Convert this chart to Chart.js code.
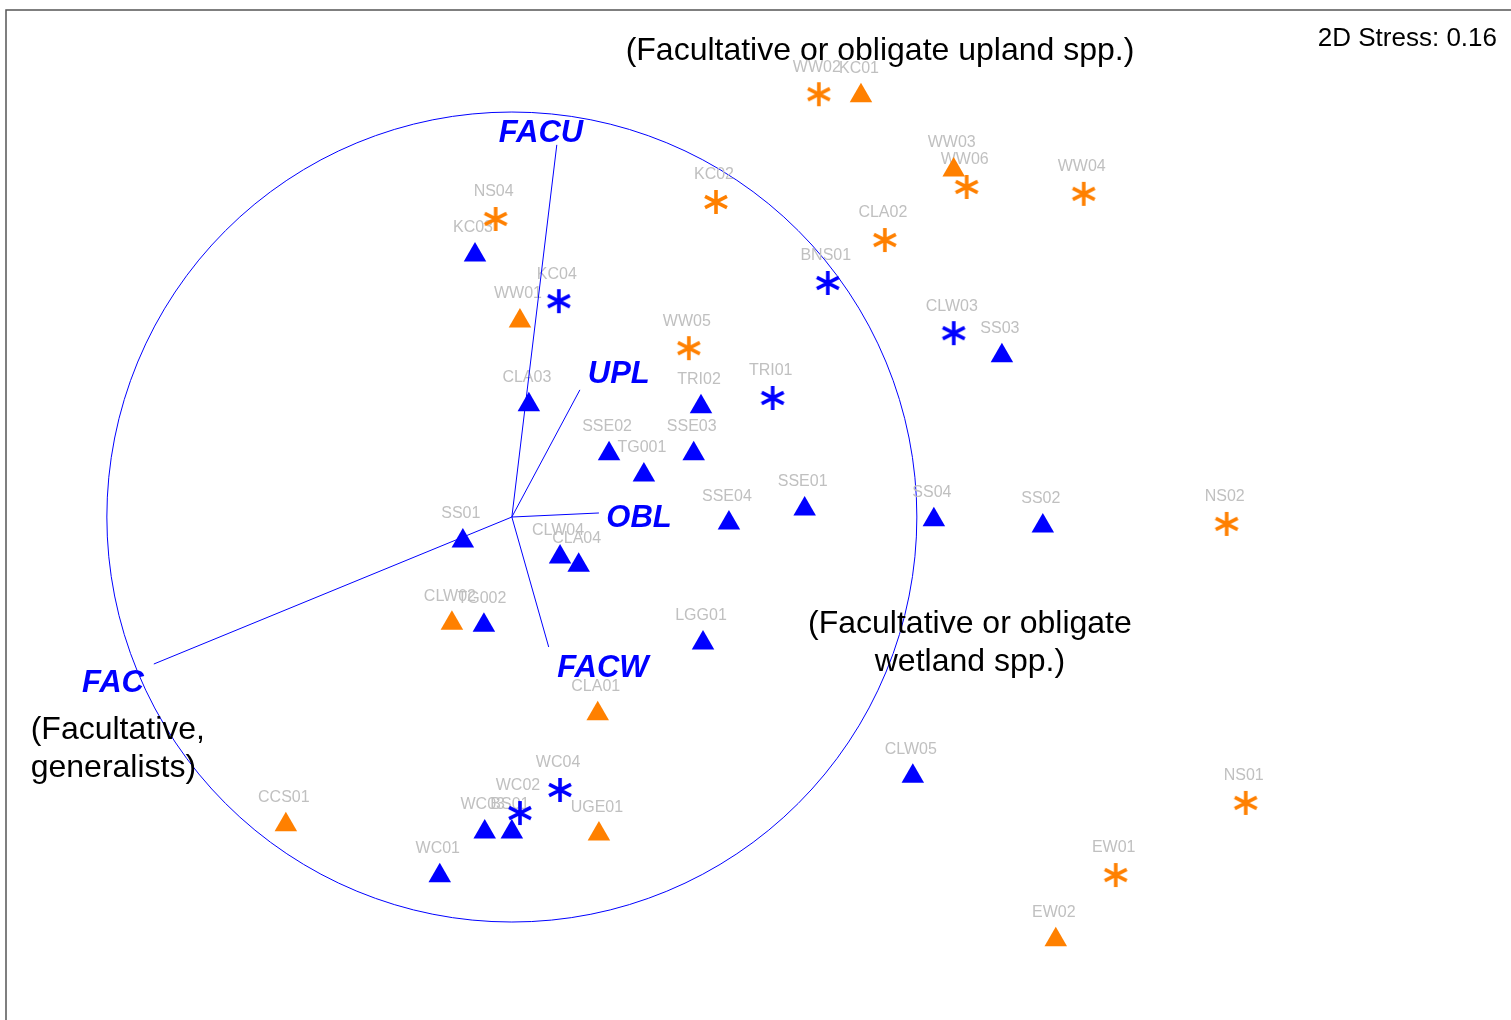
<!DOCTYPE html>
<html>
<head>
<meta charset="utf-8">
<script src="https://cdn.jsdelivr.net/npm/chart.js@4.4.1/dist/chart.umd.min.js"></script>
<style>
  html, body { margin: 0; padding: 0; background: #fff; overflow: hidden; }
  canvas { display: block; }
</style>
</head>
<body>
<canvas id="ordination" width="1511" height="1020"></canvas>
<script>
// NMDS site scores (axis 1, axis 2)
const sites = [
  'WW02','KC01','WW03','WW06','WW04','CLA02','KC02','NS04','WW01','WW05',
  'CLW02','CLA01','UGE01','CCS01','NS02','NS01','EW01','EW02',
  'KC03','KC04','CLA03','TRI02','TRI01','BNS01','CLW03','SS03','SSE02','SSE03',
  'TG001','SSE04','SSE01','SS04','SS02','SS01','CLW04','CLA04','TG002','LGG01',
  'CLW05','WC04','WC02','WC03','BS01','WC01'
];
const nmds1 = [
  0.758, 0.862, 1.091, 1.123, 1.412, 0.921, 0.504, -0.040, 0.020, 0.437,
  -0.148, 0.212, 0.215, -0.558, 1.765, 1.812, 1.491, 1.343,
  -0.091, 0.116, 0.042, 0.467, 0.644, 0.780, 1.091, 1.210, 0.240, 0.449,
  0.326, 0.536, 0.723, 1.042, 1.311, -0.121, 0.119, 0.165, -0.069, 0.472,
  0.990, 0.119, 0.020, -0.067, 0.000, -0.178
];
const nmds2 = [
  1.044, 1.040, 0.857, 0.815, 0.798, 0.684, 0.778, 0.736, 0.484, 0.417,
  -0.262, -0.486, -0.783, -0.760, -0.017, -0.706, -0.884, -1.044,
  0.647, 0.533, 0.277, 0.272, 0.294, 0.578, 0.454, 0.398, 0.156, 0.156,
  0.104, -0.015, 0.020, -0.007, -0.022, -0.059, -0.099, -0.119, -0.267, -0.311,
  -0.640, -0.674, -0.731, -0.778, -0.778, -0.886
];
// cluster membership (1 or 2) and sample type ('a' or 'b') of each site
const clusterId = [
  1,1,1,1,1,1,1,1,1,1, 1,1,1,1,1,1,1,1,
  2,2,2,2,2,2,2,2,2,2, 2,2,2,2,2,2,2,2,2,2, 2,2,2,2,2,2
];
const typeId = [
  'b','a','a','b','b','b','b','b','a','b', 'a','a','a','a','b','b','b','a',
  'a','b','a','a','b','b','b','a','a','a', 'a','a','a','a','a','a','a','a','a','a',
  'a','b','b','a','a','a'
];

// Wetland indicator vectors (fitted correlations)
const vectorNames = ['FACU', 'UPL', 'OBL', 'FACW', 'FAC'];
const vectorX = [0.111, 0.168, 0.215, 0.091, -0.884];
const vectorY = [0.919, 0.314, 0.010, -0.321, -0.363];
const stress = 0.16;

// Layout of text placed in axis units
const vectorLabelAt = [[0.072, 0.953], [0.264, 0.358], [0.314, 0.002], [0.225, -0.370], [-0.985, -0.405]];
const notes = [
  { text: '(Facultative or obligate upland spp.)', at: [0.909, 1.156], align: 'center' },
  { text: '(Facultative or obligate', at: [1.131, -0.259], align: 'center' },
  { text: 'wetland spp.)', at: [1.131, -0.353], align: 'center' },
  { text: '(Facultative,', at: [-1.188, -0.521], align: 'left' },
  { text: 'generalists)', at: [-1.188, -0.615], align: 'left' }
];

const ORANGE = '#FF8000';
const BLUE = '#0000FF';
const FONT = 'Arial, "Liberation Sans", Helvetica, sans-serif';

function asterisk(color) {
  const s = 30, c = document.createElement('canvas');
  c.width = c.height = s;
  const g = c.getContext('2d');
  g.translate(s / 2, s / 2);
  g.strokeStyle = color;
  g.lineWidth = 3.6;
  const a = 27 * Math.PI / 180, L = 12.3;
  g.beginPath();
  g.moveTo(0, -12); g.lineTo(0, 12);
  g.moveTo(-L * Math.cos(a), -L * Math.sin(a)); g.lineTo(L * Math.cos(a), L * Math.sin(a));
  g.moveTo(-L * Math.cos(a), L * Math.sin(a)); g.lineTo(L * Math.cos(a), -L * Math.sin(a));
  g.stroke();
  return c;
}

function pick(cl, ty) {
  const pts = [];
  sites.forEach((s, i) => {
    if (clusterId[i] === cl && typeId[i] === ty) pts.push({ x: nmds1[i], y: nmds2[i], label: s });
  });
  return pts;
}

const markerSets = [
  { cl: 1, ty: 'a', color: ORANGE, style: 'triangle' },
  { cl: 1, ty: 'b', color: ORANGE, style: asterisk(ORANGE) },
  { cl: 2, ty: 'a', color: BLUE, style: 'triangle' },
  { cl: 2, ty: 'b', color: BLUE, style: asterisk(BLUE) }
].map(m => ({
  data: pick(m.cl, m.ty),
  pointStyle: m.style,
  pointRadius: 13,
  pointHoverRadius: 13,
  backgroundColor: m.color,
  borderColor: m.color,
  borderWidth: 0,
  showLine: false
}));

const vectorSets = vectorNames.map((n, i) => ({
  label: n,
  data: [{ x: 0, y: 0 }, { x: vectorX[i], y: vectorY[i] }],
  showLine: true,
  pointRadius: 0,
  borderColor: BLUE,
  borderWidth: 1,
  fill: false
}));

const overlay = {
  id: 'overlay',
  beforeDatasetsDraw(chart) {
    const { ctx, chartArea: a, scales: { x, y } } = chart;
    ctx.save();
    // plot frame (left and top edges)
    ctx.strokeStyle = '#555';
    ctx.lineWidth = 1.5;
    ctx.beginPath();
    ctx.moveTo(a.left, a.bottom);
    ctx.lineTo(a.left, a.top);
    ctx.lineTo(a.right, a.top);
    ctx.stroke();
    // unit correlation circle
    const cx = x.getPixelForValue(0), cy = y.getPixelForValue(0);
    const r = x.getPixelForValue(1) - cx;
    ctx.strokeStyle = BLUE;
    ctx.lineWidth = 1;
    ctx.beginPath();
    ctx.arc(cx, cy, r, 0, Math.PI * 2);
    ctx.stroke();
    // site labels
    ctx.font = '16px ' + FONT;
    ctx.fillStyle = '#C0C0C0';
    ctx.textAlign = 'center';
    ctx.textBaseline = 'middle';
    sites.forEach((s, i) => {
      ctx.fillText(s, x.getPixelForValue(nmds1[i]) - 2, y.getPixelForValue(nmds2[i]) - 27);
    });
    ctx.restore();
  },
  afterDatasetsDraw(chart) {
    const { ctx, chartArea: a, scales: { x, y } } = chart;
    ctx.save();
    ctx.textBaseline = 'middle';
    // vector names
    ctx.font = 'italic bold 31px ' + FONT;
    ctx.fillStyle = BLUE;
    ctx.textAlign = 'center';
    vectorNames.forEach((n, i) => {
      ctx.fillText(n, x.getPixelForValue(vectorLabelAt[i][0]), y.getPixelForValue(vectorLabelAt[i][1]) + 2);
    });
    // group descriptions
    ctx.font = '32px ' + FONT;
    ctx.fillStyle = '#000';
    notes.forEach(nt => {
      ctx.textAlign = nt.align;
      ctx.fillText(nt.text, x.getPixelForValue(nt.at[0]), y.getPixelForValue(nt.at[1]) + 2);
    });
    // stress value
    ctx.font = '26px ' + FONT;
    ctx.textAlign = 'right';
    ctx.fillText('2D Stress: ' + stress.toFixed(2), a.right - 14, a.top + 29);
    ctx.restore();
  }
};

new Chart(document.getElementById('ordination'), {
  type: 'scatter',
  data: { datasets: [...markerSets, ...vectorSets] },
  options: {
    responsive: false,
    animation: false,
    layout: { autoPadding: false, padding: { left: 6, top: 10, right: 0, bottom: 0 } },
    scales: {
      x: { type: 'linear', min: -1.249, max: 2.467, display: false },
      y: { type: 'linear', min: -1.242, max: 1.252, display: false }
    },
    plugins: {
      legend: { display: false },
      tooltip: { enabled: false }
    }
  },
  plugins: [overlay]
});
</script>
</body>
</html>
